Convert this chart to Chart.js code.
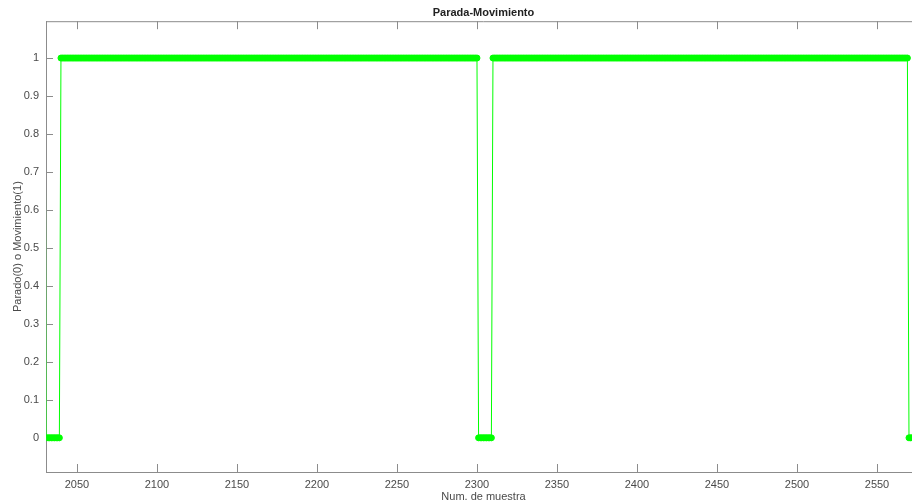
<!DOCTYPE html>
<html>
<head>
<meta charset="utf-8">
<script src="https://cdn.jsdelivr.net/npm/chart.js@4.4.1/dist/chart.umd.min.js"></script>
<style>
    html, body { margin: 0; padding: 0; background: #fff; overflow: hidden; }
    .chart-area { position: relative; width: 926px; height: 504px; }
</style>
</head>
<body>
<div class="chart-area"><canvas id="estadoChart"></canvas></div>
<script>
    // Estado por tramos: desde muestra, hasta muestra, valor (0 = parado, 1 = movimiento)
    const tramoDesde = [2030, 2031, 2040, 2301, 2310, 2570];
    const tramoHasta = [2030, 2039, 2300, 2309, 2569, 2577];
    const tramoValor = [1, 0, 1, 0, 1, 0];

    const xTicks = [2050, 2100, 2150, 2200, 2250, 2300, 2350, 2400, 2450, 2500, 2550];
    const yTicks = [0, 0.1, 0.2, 0.3, 0.4, 0.5, 0.6, 0.7, 0.8, 0.9, 1];

    const xMin = 2030.65;
    const xMax = 2577.5;

    const verde = '#00ff00';
    const gris = '#8c8c8c';
    const textoGris = '#4a4a4a';
    const fuente = "'Liberation Sans', Arial, sans-serif";

    // expandir los tramos a una muestra por punto
    const puntos = [];
    tramoDesde.forEach(function(desde, i) {
        for (let n = desde; n <= tramoHasta[i]; n++) {
            puntos.push({ x: n, y: tramoValor[i] });
        }
    });

    // marcas hacia dentro y borde superior, estilo caja
    const marcasInternas = {
        id: 'marcasInternas',
        beforeDatasetsDraw(chart) {
            const { ctx, chartArea: a, scales: { x, y } } = chart;
            ctx.save();
            ctx.strokeStyle = gris;
            ctx.lineWidth = 1;
            ctx.beginPath();
            ctx.moveTo(a.left, a.top + 0.5);
            ctx.lineTo(a.right, a.top + 0.5);
            x.ticks.forEach(function(t) {
                const px = Math.round(x.getPixelForValue(t.value)) + 0.5;
                ctx.moveTo(px, a.bottom);
                ctx.lineTo(px, a.bottom - 8);
                ctx.moveTo(px, a.top);
                ctx.lineTo(px, a.top + 8);
            });
            y.ticks.forEach(function(t) {
                const py = Math.round(y.getPixelForValue(t.value)) + 0.5;
                ctx.moveTo(a.left, py);
                ctx.lineTo(a.left + 7, py);
            });
            ctx.stroke();
            ctx.restore();
        }
    };

    const ctx = document.getElementById('estadoChart').getContext('2d');
    new Chart(ctx, {
        type: 'line',
        data: {
            datasets: [{
                label: 'Estado',
                data: puntos,
                borderColor: verde,
                backgroundColor: verde,
                borderWidth: 1,
                // los marcadores fuera de los límites no se dibujan
                pointRadius: c => (c.raw && c.raw.x < xMin ? 0 : 3),
                pointBorderWidth: 1,
                pointBorderColor: verde,
                pointBackgroundColor: verde,
                tension: 0,
                fill: false,
                clip: { left: -0.5, top: 0, right: 0, bottom: 0 }
            }]
        },
        plugins: [marcasInternas],
        options: {
            responsive: true,
            maintainAspectRatio: false,
            animation: false,
            layout: { padding: 0 },
            plugins: {
                legend: { display: false },
                tooltip: { enabled: false },
                title: {
                    display: true,
                    text: 'Parada-Movimiento',
                    fullSize: false,
                    color: '#222',
                    font: { family: fuente, size: 11, weight: 'bold' },
                    padding: { top: 6, bottom: 2 }
                }
            },
            scales: {
                x: {
                    type: 'linear',
                    min: xMin,
                    max: xMax,
                    afterBuildTicks: function(scale) {
                        scale.ticks = xTicks.map(v => ({ value: v }));
                    },
                    afterFit: function(scale) { scale.height = 32; },
                    grid: { display: true, drawOnChartArea: false, drawTicks: false },
                    border: { display: true, color: gris, width: 1 },
                    ticks: {
                        color: textoGris,
                        padding: 6,
                        maxRotation: 0,
                        font: { family: fuente, size: 11 },
                        callback: v => String(v)
                    },
                    title: {
                        display: true,
                        text: 'Num. de muestra',
                        color: textoGris,
                        font: { family: fuente, size: 11 },
                        padding: { top: 0, bottom: 0 }
                    }
                },
                y: {
                    min: -0.09,
                    max: 1.097,
                    afterBuildTicks: function(scale) {
                        scale.ticks = yTicks.map(v => ({ value: v }));
                    },
                    afterFit: function(scale) { scale.width = 46; },
                    grid: { display: true, drawOnChartArea: false, drawTicks: false },
                    border: { display: true, color: gris, width: 1 },
                    ticks: {
                        color: textoGris,
                        padding: 7,
                        font: { family: fuente, size: 11 },
                        callback: v => String(Number(v.toFixed(1)))
                    },
                    title: {
                        display: true,
                        text: 'Parado(0) o Movimiento(1)',
                        color: textoGris,
                        font: { family: fuente, size: 11 },
                        padding: { top: 11, bottom: 0 }
                    }
                }
            }
        }
    });
</script>
</body>
</html>
